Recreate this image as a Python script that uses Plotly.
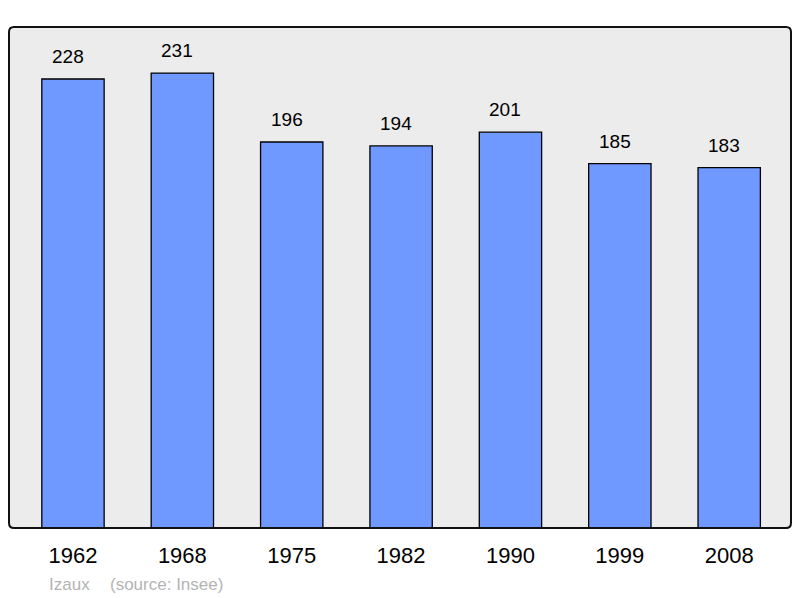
import plotly.graph_objects as go

years = ["1962", "1968", "1975", "1982", "1990", "1999", "2008"]
population = [228, 231, 196, 194, 201, 185, 183]
town = "Izaux"
source = "(source: Insee)"

x_idx = list(range(len(years)))
FONT = "Liberation Sans, Arial, sans-serif"

fig = go.Figure()
fig.add_trace(go.Bar(
    x=x_idx, y=population, width=0.57,
    marker=dict(color="#7099ff", line=dict(color="#000000", width=1.3)),
    hoverinfo="skip",
))

for xi, v in zip(x_idx, population):
    fig.add_annotation(x=xi, y=v, text=str(v), showarrow=False,
                       yanchor="bottom", yshift=10, xshift=-5,
                       font=dict(family=FONT, size=19, color="#000"))

fy = -(584 - 528) / 501
fig.add_annotation(xref="paper", yref="paper", x=(49 - 9) / 782, y=fy,
                   text=town, showarrow=False, xanchor="left", yanchor="middle",
                   xshift=-2, font=dict(family=FONT, size=17, color="#b4b4b4"))
fig.add_annotation(xref="paper", yref="paper", x=(110 - 9) / 782, y=fy,
                   text=source, showarrow=False, xanchor="left", yanchor="middle",
                   xshift=-2, font=dict(family=FONT, size=17, color="#b4b4b4"))

# rounded frame around the plot area (paper coordinates)
rx, ry = 5 / 782, 5 / 501
path = (f"M {rx},0 L {1-rx},0 Q 1,0 1,{ry} L 1,{1-ry} Q 1,1 {1-rx},1 "
        f"L {rx},1 Q 0,1 0,{1-ry} L 0,{ry} Q 0,0 {rx},0 Z")
fig.add_shape(type="path", xref="paper", yref="paper", path=path,
              line=dict(color="#111", width=2), layer="above")

# page body has an 8px margin: compensate so the plot lands where the reference has it
fig.update_layout(
    width=792, height=590,
    margin=dict(l=1, r=9, t=19, b=70),
    paper_bgcolor="white", plot_bgcolor="#ececec",
    showlegend=False,
    xaxis=dict(range=[-0.585, 6.565], tickmode="array", tickvals=x_idx, ticktext=years,
               showgrid=False, zeroline=False, showline=False, ticks="outside",
               ticklen=8, tickcolor="rgba(0,0,0,0)",
               tickfont=dict(family=FONT, size=22, color="#000")),
    yaxis=dict(range=[0, 254.4], showgrid=False, zeroline=False, showticklabels=False,
               showline=False),
)

fig.write_html("out.html")
